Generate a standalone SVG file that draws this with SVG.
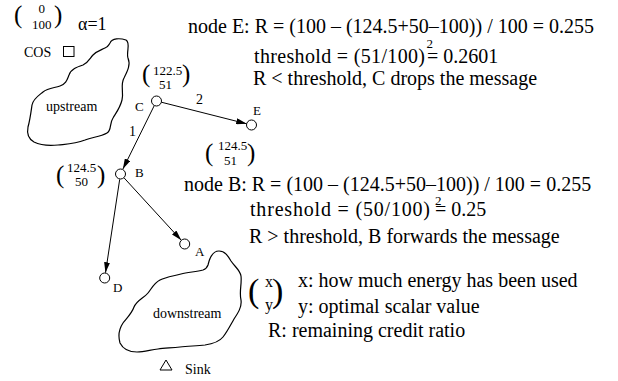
<svg xmlns="http://www.w3.org/2000/svg" width="618" height="381" viewBox="0 0 618 381">
<style>
text{font-family:"Liberation Serif","Times New Roman",serif;fill:#000}
.big{font-size:20px}
.sm{font-size:14px}
.num{font-size:13px}
.lbl{font-size:13px}
.par{font-size:25px}
.nd{fill:#fff;stroke:#000;stroke-width:1}
.cloud{fill:none;stroke:#000;stroke-width:1.2}
.edge{stroke:#000;stroke-width:1;fill:none;marker-end:url(#ah)}
</style>
<defs>
<marker id="ah" markerUnits="userSpaceOnUse" markerWidth="11" markerHeight="6" refX="10.5" refY="3" orient="auto">
<path d="M0,0 L10.5,3 L0,6 z" fill="#000"/>
</marker>
</defs>
<rect width="618" height="381" fill="#fff"/>

<g id="legend-top">
<text class="par" x="14" y="22.5">(</text>
<text class="num" x="38.5" y="13">0</text>
<text class="num" x="32" y="28.5">100</text>
<text class="par" x="54" y="22.5">)</text>
<text x="78" y="30" style="font-size:18px">α=1</text>
</g>

<g id="cos">
<text class="sm" x="24" y="57">COS</text>
<rect x="63.5" y="46.5" width="10.5" height="10" fill="none" stroke="#000" stroke-width="1"/>
</g>

<g id="upstream">
<path class="cloud" d="M110,43 C112,38 120,38 126,40 C131,43 126,52 128,58 C131,65 127,72 124,78 C120,85 124,92 122,100 C120,108 116,113 113,118 C109,124 112,130 107,133 C100,137 92,137 85,140 C75,144 68,144 58,145 C48,146 40,145 34,142 C27,138 27,132 28,127 C30,120 31,112 32,105 C33,99 38,96 43,92 C48,88 54,88 60,86 C66,84 67,80 69,75 C71,69 77,67 83,65 C89,62 90,58 93,55 C97,51 101,50 105,48 C108,47 108,46 110,43 Z"/>
<text class="sm" x="46" y="111">upstream</text>
</g>

<g id="downstream">
<path class="cloud" d="M208,265 C210,256 214,251 219,251 C225,251 228,256 231,261 C235,267 240,270 241,276 C242,284 239,292 241,300 C242,307 238,313 234,319 C230,326 227,332 223,337 C219,342 212,344 205,345 C196,346 188,346 180,347 C172,348 165,348 158,349 C150,350 144,352 137,352 C129,352 123,349 120,343 C118,336 119,329 123,323 C127,318 132,313 134,307 C137,300 144,298 148,293 C152,288 154,283 160,280 C166,277 174,276 181,274 C188,272 196,272 203,270 C206,269 207,268 208,265 Z"/>
<text class="sm" x="153" y="318">downstream</text>
</g>

<g id="connectors">
<line class="edge" x1="161.3" y1="102.2" x2="246.7" y2="123.8"/>
<line class="edge" x1="154.3" y1="105.5" x2="122.9" y2="169.1"/>
<line class="edge" x1="123.9" y1="177.7" x2="181.3" y2="240.3"/>
<line class="edge" x1="119.7" y1="179.4" x2="105.5" y2="272.7"/>
<text class="sm" x="196" y="104">2</text>
<text class="sm" x="129" y="136">1</text>
</g>

<g id="node-C">
<circle class="nd" cx="156.5" cy="101" r="5"/>
<text class="lbl" x="135" y="111">C</text>
<text class="par" x="142" y="81.5">(</text>
<text class="num" x="153" y="75">122.5</text>
<text class="num" x="159" y="89">51</text>
<text class="par" x="182" y="81.5">)</text>
</g>

<g id="node-E">
<circle class="nd" cx="251.5" cy="125" r="5"/>
<text class="lbl" x="253" y="115">E</text>
<text class="par" x="205" y="160.5">(</text>
<text class="num" x="218" y="150">124.5</text>
<text class="num" x="224" y="165">51</text>
<text class="par" x="247" y="160.5">)</text>
</g>

<g id="node-B">
<circle class="nd" cx="120.5" cy="174" r="5"/>
<text class="lbl" x="135" y="177">B</text>
<text class="par" x="56" y="182.5">(</text>
<text class="num" x="67" y="172">124.5</text>
<text class="num" x="75" y="186">50</text>
<text class="par" x="97" y="182.5">)</text>
</g>

<g id="node-A">
<circle class="nd" cx="184.7" cy="244" r="5"/>
<text class="lbl" x="195" y="256">A</text>
</g>

<g id="node-D">
<circle class="nd" cx="104.7" cy="278" r="5"/>
<text class="lbl" x="113" y="292">D</text>
</g>

<g id="sink">
<path d="M166,360 L160,370 L172,370 Z" fill="none" stroke="#000" stroke-width="1"/>
<text class="sm" x="185" y="374">Sink</text>
</g>

<g id="text-E">
<text class="big" x="188" y="33">node E: R = (100 – (124.5+50–100)) / 100 = 0.255</text>
<text class="big" x="254" y="63" textLength="171" lengthAdjust="spacing">threshold = (51/100)</text>
<text class="num" x="426.5" y="47.5">2</text>
<text class="big" x="427" y="63">= 0.2601</text>
<text class="big" x="253" y="85">R &lt; threshold, C drops the message</text>
</g>

<g id="text-B">
<text class="big" x="184" y="191">node B: R = (100 – (124.5+50–100)) / 100 = 0.255</text>
<text class="big" x="250" y="216" textLength="180" lengthAdjust="spacing">threshold = (50/100)</text>
<text class="num" x="435" y="204.5">2</text>
<text class="big" x="435" y="216">= 0.25</text>
<text class="big" x="249" y="243">R &gt; threshold, B forwards the message</text>
</g>

<g id="legend">
<text x="248" y="302" style="font-size:34px">(</text>
<text x="265" y="287" style="font-size:16px">x</text>
<text x="265" y="310" style="font-size:16px">y</text>
<text x="272" y="302" style="font-size:34px">)</text>
<text class="big" x="298" y="287">x: how much energy has been used</text>
<text class="big" x="298" y="313">y: optimal scalar value</text>
<text class="big" x="268" y="337">R: remaining credit ratio</text>
</g>
</svg>
